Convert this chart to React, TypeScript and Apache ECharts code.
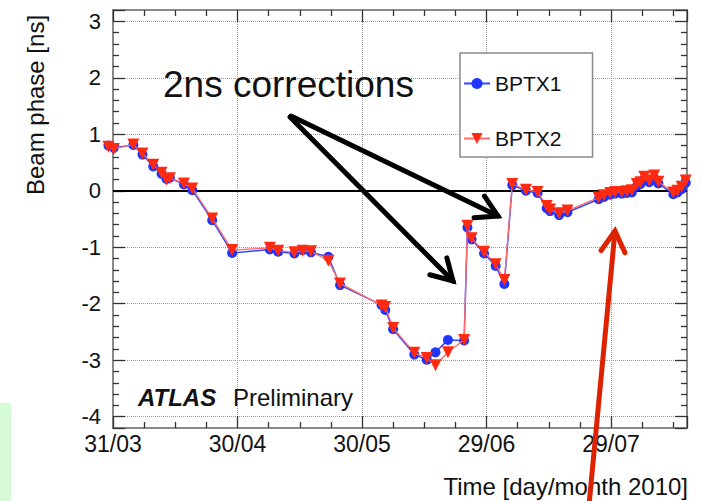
import React, { useEffect, useRef } from "react";
import * as echarts from "echarts";

// Days since 31/03/2010 (fractional = time of the run within the day)
const dayOffsets = [
  -1.1, 0.2, 4.9, 7.1, 9.7, 11.7, 12.9, 13.7, 17.1, 19.1, 23.9, 28.7, 37.8, 39.8,
  43.7, 45.7, 47.7, 51.9, 54.7, 64.7, 65.6, 67.5, 72.6, 75.6, 77.7, 80.7, 84.6,
  85.4, 86.4, 89.4, 92.2, 94.3, 96.2, 99.5, 102.3, 104.5, 105.3, 107.5, 109.5,
  117.0, 118.3, 119.8, 121.0, 122.6, 123.8, 125.0, 126.2, 127.1, 128.0, 129.2,
  130.4, 131.4, 135.0, 136.0, 137.0, 138.0,
];
const bptx1 = [
  0.8, 0.76, 0.81, 0.64, 0.43, 0.3, 0.21, 0.23, 0.11, 0.01, -0.52, -1.1, -1.04,
  -1.08, -1.11, -1.05, -1.09, -1.17, -1.67, -2.02, -2.11, -2.45, -2.9, -2.99,
  -2.86, -2.64, -2.65, -0.65, -0.86, -1.11, -1.33, -1.65, 0.1, 0.0, -0.04, -0.31,
  -0.36, -0.43, -0.38, -0.15, -0.11, -0.07, -0.05, -0.05, -0.04, -0.03, 0.08,
  0.12, 0.21, 0.15, 0.22, 0.13, -0.06, -0.03, 0.03, 0.14,
];
const bptx2 = [
  0.78, 0.74, 0.82, 0.66, 0.46, 0.32, 0.2, 0.22, 0.13, 0.04, -0.49, -1.05, -1.01,
  -1.06, -1.09, -1.06, -1.07, -1.24, -1.64, -2.03, -2.06, -2.43, -2.87, -2.96,
  -3.09, -2.86, -2.64, -0.62, -0.84, -1.08, -1.3, -1.58, 0.12, 0.02, -0.02, -0.27,
  -0.33, -0.4, -0.35, -0.12, -0.08, -0.04, -0.02, -0.02, -0.01, 0.01, 0.12, 0.15,
  0.25, 0.18, 0.27, 0.16, -0.03, 0.0, 0.07, 0.18,
];
const seriesNames = ["BPTX1", "BPTX2"];

const BASE_DATE = Date.UTC(2010, 2, 31);
const X_MIN = 0;
const X_MAX = 138.3;
const X_STEP = 30;
const Y_MIN = -4.2;
const Y_MAX = 3.2;

const FONT = "Liberation Sans, Arial, Helvetica, sans-serif";

function dateLabel(v: number): string {
  const d = new Date(BASE_DATE + Math.round(v) * 86400000);
  const dd = String(d.getUTCDate()).padStart(2, "0");
  const mm = String(d.getUTCMonth() + 1).padStart(2, "0");
  return `${dd}/${mm}`;
}

function arrowHead(x1: number, y1: number, x2: number, y2: number, len: number, ang: number) {
  const t = Math.atan2(y2 - y1, x2 - x1) + Math.PI;
  return [
    [x2 + len * Math.cos(t - ang), y2 + len * Math.sin(t - ang)],
    [x2, y2],
    [x2 + len * Math.cos(t + ang), y2 + len * Math.sin(t + ang)],
  ];
}

function arrow(x1: number, y1: number, x2: number, y2: number, color: string) {
  return [
    {
      type: "line",
      shape: { x1, y1, x2, y2 },
      style: { stroke: color, lineWidth: 5, lineCap: "round" },
      z: 100,
    },
    {
      type: "polyline",
      shape: { points: arrowHead(x1, y1, x2, y2, 24, Math.PI / 6) },
      style: { stroke: color, lineWidth: 5, fill: null, lineCap: "round", lineJoin: "miter" },
      z: 100,
    },
  ];
}

function text(
  t: string,
  x: number,
  y: number,
  size: number,
  align: string,
  extra: Record<string, any> = {},
  rotation = 0
) {
  return {
    type: "text",
    x,
    y,
    rotation,
    z: 100,
    style: {
      text: t,
      fontSize: size,
      fontFamily: FONT,
      fill: "#111",
      align,
      textAlign: align,
      verticalAlign: "middle",
      textVerticalAlign: "middle",
      ...extra,
    },
  };
}

export default function App() {
  const ref = useRef<HTMLDivElement>(null);

  useEffect(() => {
    if (!ref.current) return;
    const chart = echarts.init(ref.current, null, { renderer: "svg" });

    const tickStyle = { color: "#333", width: 1.3 };
    const axisLine = { show: true, onZero: false, lineStyle: { color: "#8a8a8a", width: 2 } };

    const xCommon = {
      type: "value",
      min: X_MIN,
      max: X_MAX,
      interval: X_STEP,
      axisLine,
      axisTick: { show: true, inside: true, length: 12, lineStyle: tickStyle },
      minorTick: { show: true, splitNumber: 4, length: 6, lineStyle: tickStyle },
    };
    const yCommon = {
      type: "value",
      min: Y_MIN,
      max: Y_MAX,
      splitNumber: 7,
      minInterval: 1,
      maxInterval: 1,
      axisLine,
      axisTick: { show: true, inside: true, length: 12, lineStyle: tickStyle },
      minorTick: { show: true, splitNumber: 5, length: 6, lineStyle: tickStyle },
    };
    const gridLine = { show: true, lineStyle: { type: "dotted", color: "#9a9a9a", width: 1 } };

    const data1 = dayOffsets.map((d, i) => [d, bptx1[i]]);
    const data2 = dayOffsets.map((d, i) => [d, bptx2[i]]);

    chart.setOption({
      animation: false,
      backgroundColor: "#ffffff",
      textStyle: { fontFamily: FONT },
      grid: {
        left: 113,
        right: 15,
        top: 10,
        bottom: 73,
        containLabel: false,
        show: true,
        borderColor: "#8a8a8a",
        borderWidth: 2,
        backgroundColor: "transparent",
      },
      xAxis: [
        {
          ...xCommon,
          position: "bottom",
          splitLine: gridLine,
          axisLabel: {
            show: true,
            margin: 4,
            fontSize: 23,
            color: "#111",
            fontFamily: FONT,
            showMinLabel: true,
            showMaxLabel: false,
            formatter: (v: number) => dateLabel(v),
          },
        },
        {
          ...xCommon,
          position: "top",
          splitLine: { show: false },
          axisLabel: { show: false },
        },
      ],
      yAxis: [
        {
          ...yCommon,
          position: "left",
          splitLine: gridLine,
          axisLabel: {
            show: true,
            margin: 12,
            fontSize: 22,
            color: "#111",
            fontFamily: FONT,
            showMinLabel: false,
            showMaxLabel: false,
          },
        },
        {
          ...yCommon,
          position: "right",
          splitLine: { show: false },
          axisLabel: { show: false },
        },
      ],
      legend: {
        show: true,
        orient: "vertical",
        left: 460,
        top: 53,
        padding: [20, 31, 8, 3],
        itemGap: 34,
        itemWidth: 26,
        itemHeight: 14,
        backgroundColor: "#ffffff",
        borderColor: "#8a8a8a",
        borderWidth: 1.5,
        textStyle: { fontSize: 21, color: "#111", fontFamily: FONT },
        data: seriesNames,
      },
      series: [
        {
          name: seriesNames[0],
          type: "line",
          xAxisIndex: 0,
          yAxisIndex: 0,
          data: data1,
          clip: false,
          symbol: "circle",
          symbolSize: 10,
          itemStyle: { color: "#1f35ff" },
          lineStyle: { color: "#3347ff", width: 1.5 },
          markLine: {
            silent: true,
            symbol: "none",
            label: { show: false },
            lineStyle: { color: "#000", width: 2, type: "solid" },
            data: [{ yAxis: 0 }],
            z: 1,
          },
          z: 3,
        },
        {
          name: seriesNames[1],
          type: "line",
          xAxisIndex: 0,
          yAxisIndex: 0,
          data: data2,
          clip: false,
          symbol: "triangle",
          symbolRotate: 180,
          symbolSize: 12,
          itemStyle: { color: "#ff2a10" },
          lineStyle: { color: "#ff6a6a", width: 1.3 },
          z: 4,
        },
        {
          name: "frame",
          type: "line",
          xAxisIndex: 1,
          yAxisIndex: 1,
          data: [],
          silent: true,
          showSymbol: false,
          lineStyle: { opacity: 0 },
        },
      ],
      graphic: [
        {
          type: "rect",
          shape: { x: 0, y: 403, width: 11, height: 98 },
          style: { fill: "#d6fad6" },
          z: 100,
        },
        text("Beam phase [ns]", 35, 105, 24, "center", {}, Math.PI / 2),
        text("Time [day/month 2010]", 688, 486, 24, "right"),
        text("2ns corrections", 163, 84, 37, "left"),
        text("ATLAS", 138, 397, 24, "left", { fontWeight: "bold", fontStyle: "italic" }),
        text("Preliminary", 233, 397, 24, "left"),
        ...arrow(291, 116, 498, 216, "#000"),
        ...arrow(290, 117, 453, 281, "#000"),
        ...arrow(589, 505, 615, 231, "#dd2200"),
      ],
    });

    return () => chart.dispose();
  }, []);

  return (
    <div
      ref={ref}
      style={{ position: "fixed", left: 0, top: 0, width: 702, height: 501, background: "#fff" }}
    />
  );
}
